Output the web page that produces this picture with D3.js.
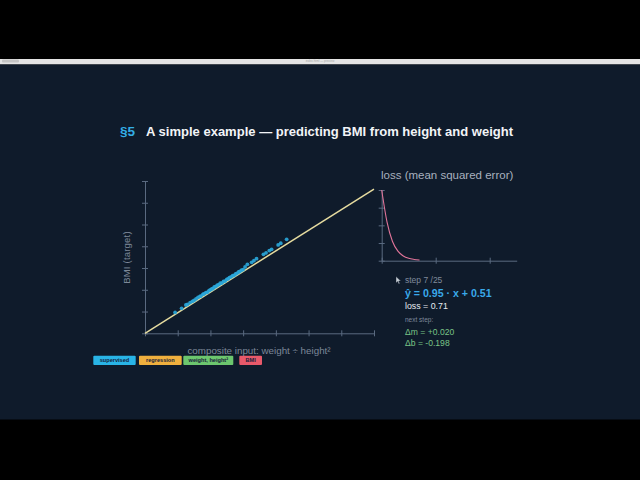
<!DOCTYPE html>
<html><head><meta charset="utf-8">
<script src="https://cdn.jsdelivr.net/npm/d3@7"></script>
<style>html,body{margin:0;padding:0;background:#000;overflow:hidden}svg{display:block}</style>
</head><body>
<script>
// ---- data ----
const xTicks = [0,1,2,3,4,5,6,7];
const yTicks = [0,1,2,3,4,5,6,7];
const pointsX = [0.92,1.12,1.25,1.30,1.38,1.45,1.50,1.56,1.62,1.68,1.71,1.77,1.80,1.86,1.90,1.95,1.99,2.04,2.08,2.12,2.17,2.21,2.26,2.30,2.35,2.40,2.45,2.50,2.54,2.58,2.63,2.68,2.72,2.77,2.81,2.86,2.90,2.95,3.00,3.06,3.13,3.26,3.33,3.41,3.62,3.70,3.80,3.87,4.07,4.15,4.33];
const pointsY = [0.96,1.15,1.30,1.33,1.41,1.47,1.51,1.58,1.65,1.70,1.71,1.79,1.81,1.87,1.88,1.95,1.99,2.04,2.06,2.13,2.15,2.21,2.24,2.30,2.31,2.38,2.40,2.48,2.50,2.56,2.59,2.65,2.66,2.73,2.75,2.82,2.84,2.90,2.93,3.05,3.17,3.26,3.34,3.43,3.63,3.70,3.80,3.86,4.06,4.14,4.32];
const fitX = [0, 7];
const fitY = [0, 6.63];
const lossSteps = [0,1,2,3,4,5,6,7];
const lossValues = [72,39,19.5,9.7,4.8,2.4,1.3,0.71];
const lossXTicks = [0,10,20];
const lossYTicks = [0,18,36,54,72];
const tags = ["supervised","regression","weight, height²","BMI"];
const tagColors = ["#29b4e6","#f0b03e","#6cc66e","#e8596a"];

const W=640,H=480;
const svg = d3.select("body").append("svg").attr("width",W).attr("height",H);
const FONT = "'Liberation Sans', Arial, Helvetica, sans-serif";

// background frame
svg.append("rect").attr("x",0).attr("y",0).attr("width",W).attr("height",H).attr("fill","#000");
svg.append("rect").attr("x",0).attr("y",59).attr("width",W).attr("height",5.5).attr("fill","#e4e4e4");
svg.append("rect").attr("x",2).attr("y",59.5).attr("width",17).attr("height",3).attr("rx",1).attr("fill","#c4c4c4");
svg.append("text").attr("x",320).attr("y",62.3).attr("text-anchor","middle").attr("font-family",FONT)
  .attr("font-size",3).attr("fill","#a8a8a8").text("index.html — preview");
svg.append("rect").attr("x",0).attr("y",64.5).attr("width",W).attr("height",355).attr("fill","#0f1b2b");

// title
svg.append("text").attr("x",120).attr("y",136).attr("font-family",FONT).attr("font-weight","bold")
  .attr("font-size",13.5).attr("fill","#34aee6").text("§5");
svg.append("text").attr("x",146).attr("y",136).attr("font-family",FONT).attr("font-weight","bold")
  .attr("font-size",13.5).attr("fill","#f2f4f7").attr("textLength",367).attr("lengthAdjust","spacingAndGlyphs")
  .text("A simple example — predicting BMI from height and weight");

// main chart
const x = d3.scaleLinear().domain([0,7]).range([145,374]);
const y = d3.scaleLinear().domain([0,7]).range([333.3,181]);
const axisCol = "#5a6a80";

function styleAxis(g, horiz){
  g.select(".domain").attr("stroke",axisCol).attr("stroke-width",1);
  g.selectAll(".tick line").attr("stroke",axisCol).attr("stroke-width",1);
  if(horiz) g.selectAll(".tick line").attr("y1",-3).attr("y2",3);
  else g.selectAll(".tick line").attr("x1",-3).attr("x2",3);
  g.selectAll(".tick text").remove();
}
svg.append("g").attr("transform",`translate(0,${y(0)})`)
  .call(d3.axisBottom(x).tickValues(xTicks).tickSizeOuter(0).tickFormat(""))
  .call(g=>styleAxis(g,true));
svg.append("g").attr("transform",`translate(${x(0)},0)`)
  .call(d3.axisLeft(y).tickValues(yTicks).tickSizeOuter(0).tickFormat(""))
  .call(g=>styleAxis(g,false));

svg.append("path").datum(fitX.map((v,i)=>[v,fitY[i]]))
  .attr("d",d3.line().x(d=>x(d[0])).y(d=>y(d[1])))
  .attr("stroke","#e6dca0").attr("stroke-width",1.5).attr("fill","none");

svg.append("g").selectAll("circle").data(pointsX.map((v,i)=>[v,pointsY[i]])).join("circle")
  .attr("cx",d=>x(d[0])).attr("cy",d=>y(d[1])).attr("r",1.9)
  .attr("fill","#2aa9dc").attr("fill-opacity",0.9);

svg.append("text").attr("transform",`translate(130,257.5) rotate(-90)`).attr("text-anchor","middle")
  .attr("font-family",FONT).attr("font-size",9.5).attr("letter-spacing",0.2).attr("fill","#7d8899").text("BMI (target)");
svg.append("text").attr("x",259).attr("y",353.5).attr("text-anchor","middle")
  .attr("font-family",FONT).attr("font-size",9.8).attr("fill","#7d8899").text("composite input: weight ÷ height²");

// tags
const tagX = [93.3,139,183.3,239.3];
const tagW = [42.4,42.7,50,22.7];
const tg = svg.append("g").selectAll("g").data(tags).join("g")
  .attr("transform",(d,i)=>`translate(${tagX[i]},355.7)`);
tg.append("rect").attr("width",(d,i)=>tagW[i]).attr("height",9.3).attr("rx",1)
  .attr("fill",(d,i)=>tagColors[i]);
tg.append("text").attr("x",(d,i)=>tagW[i]/2).attr("y",6.6).attr("text-anchor","middle")
  .attr("font-family",FONT).attr("font-size",5.6).attr("font-weight","bold").attr("fill","#16203a").text(d=>d);

// loss chart
const lx = d3.scaleLinear().domain([0,25]).range([381.7,516.7]);
const ly = d3.scaleLinear().domain([0,72]).range([260.7,190]);
svg.append("text").attr("x",381).attr("y",179).attr("font-family",FONT).attr("font-size",11.5)
  .attr("fill","#a8b1bf").text("loss (mean squared error)");
svg.append("g").attr("transform",`translate(0,${ly(0)})`)
  .call(d3.axisBottom(lx).tickValues(lossXTicks).tickSizeOuter(0).tickFormat(""))
  .call(g=>styleAxis(g,true));
svg.append("g").attr("transform",`translate(${lx(0)},0)`)
  .call(d3.axisLeft(ly).tickValues(lossYTicks).tickSizeOuter(0).tickFormat(""))
  .call(g=>styleAxis(g,false));
svg.append("path").datum(lossSteps.map((s,i)=>[s,lossValues[i]]))
  .attr("d",d3.line().x(d=>lx(d[0])).y(d=>ly(d[1])).curve(d3.curveMonotoneX))
  .attr("stroke","#e07499").attr("stroke-width",1.1).attr("fill","none");

// cursor icon
svg.append("path").attr("d","M0,0 L0,6.5 L1.6,5 L2.8,7.4 L3.8,7 L2.7,4.6 L4.8,4.6 Z")
  .attr("transform","translate(396,276.5)").attr("fill","#c9d0d8").attr("stroke","#0f1b2b").attr("stroke-width",0.4);

// step panel
const tx = 405;
svg.append("text").attr("x",tx).attr("y",282.5).attr("font-family",FONT).attr("font-size",8.5)
  .attr("fill","#7f8a9b").text("step 7 /25");
svg.append("text").attr("x",tx).attr("y",297).attr("font-family",FONT).attr("font-weight","bold").attr("font-size",10.6)
  .attr("fill","#3aa9ea").text("ŷ = 0.95 · x + 0.51");
svg.append("text").attr("x",tx).attr("y",309).attr("font-family",FONT).attr("font-size",8.8)
  .attr("fill","#e6ebf1").text("loss = 0.71");
svg.append("text").attr("x",tx).attr("y",321.5).attr("font-family",FONT).attr("font-size",6.5)
  .attr("fill","#7f8a9b").text("next step:");
svg.append("text").attr("x",tx).attr("y",335).attr("font-family",FONT).attr("font-size",8.6)
  .attr("fill","#79c486").text("Δm = +0.020");
svg.append("text").attr("x",tx).attr("y",345.7).attr("font-family",FONT).attr("font-size",8.6)
  .attr("fill","#79c486").text("Δb = -0.198");
</script>
</body></html>
